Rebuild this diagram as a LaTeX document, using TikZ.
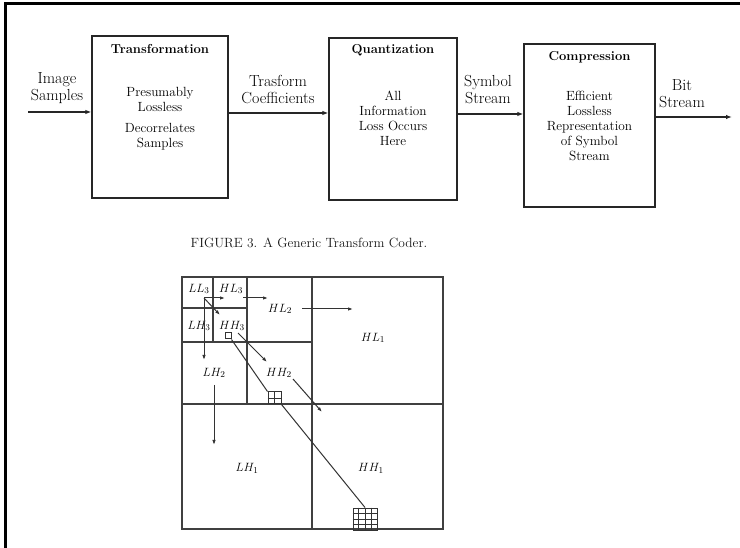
\documentclass[tikz,border=0pt]{standalone}
\usetikzlibrary{arrows.meta,calc}
\begin{document}
\begin{tikzpicture}[x=1pt,y=-1pt,
  box/.style={draw=black!85, line width=1.3pt, inner sep=0pt},
  ttl/.style={font=\fontsize{13}{15}\selectfont\bfseries, text=black},
  body/.style={font=\fontsize{13.3}{15}\selectfont, align=center, text=black},
  lab/.style={font=\fontsize{16}{17}\selectfont, align=center, text=black},
  arr/.style={draw=black!85, line width=1.2pt, -{Latex[length=6pt,width=4.5pt]}},
  wl/.style={draw=black!75, line width=1.3pt},
  wa/.style={draw=black!80, line width=1pt, -{Latex[length=5pt,width=3.5pt]}},
  wt/.style={font=\fontsize{12.5}{14}\selectfont, text=black},
  figcap/.style={font=\fontsize{13.4}{15}\selectfont, text=black!90}]
\useasboundingbox (0,0) rectangle (740,548);
\fill[white] (0,0) rectangle (740,548);
\draw[line width=3pt, line join=miter] (5,548) -- (5,4) -- (740,4);

% ---- block diagram ----
\node[box, minimum width=136pt, minimum height=162pt] (T) at (160,117) {};
\node[box, minimum width=128pt, minimum height=162pt] (Q) at (393,119) {};
\node[box, minimum width=131pt, minimum height=163pt] (C) at (589.5,125.5) {};

\node[ttl] (Tt) at (160,49) {Transformation};
\node[ttl] (Qt) at (393,50) {Quantization};
\node[ttl] (Ct) at (589.5,57) {Compression};

\node[body] (Tb1) at (160,99) {Presumably\\Lossless};
\node[body] (Tb2) at (160,137) {Decorrelates\\Samples};
\node[body] (Qb) at (393,118) {All\\Information\\Loss Occurs\\Here};
\node[body] (Cb) at (589.5,126) {Efficient\\Lossless\\Representation\\of Symbol\\Stream};

\node[lab] (L1) at (57,88.5) {Image\\Samples};
\node[lab] (L2) at (278,90) {Trasform\\Coefficients};
\node[lab] (L3) at (488,90) {Symbol\\Stream};
\node[lab] (L4) at (682,94) {Bit\\Stream};

\coordinate (in) at (28,112);
\coordinate (a2) at (0,113);
\coordinate (a3) at (0,114);
\coordinate (out) at (732,117);
\draw[arr] (in) -- (in -| T.west);
\draw[arr] (T.east |- a2) -- (Q.west |- a2);
\draw[arr] (Q.east |- a3) -- (C.west |- a3);
\draw[arr] (C.east |- out) -- (out);

\node[figcap] (fig) at (309,243) {FIGURE 3. A Generic Transform Coder.};

% ---- wavelet pyramid ----
\draw[wl] (182,277) rectangle (443,529);
\draw[wl] (312,277) -- (312,529);
\draw[wl] (182,404) -- (443,404);
\draw[wl] (247,277) -- (247,404);
\draw[wl] (182,342) -- (312,342);
\draw[wl] (213,277) -- (213,342);
\draw[wl] (182,308) -- (247,308);

\node[wt] (LL3) at (199,289) {$LL_3$};
\node[wt] (HL3) at (231,289) {$HL_3$};
\node[wt] (LH3) at (199,326) {$LH_3$};
\node[wt] (HH3) at (232,326) {$HH_3$};
\node[wt] (HL2) at (280,309) {$HL_2$};
\node[wt] (LH2) at (214,373) {$LH_2$};
\node[wt] (HH2) at (279,373) {$HH_2$};
\node[wt] (HL1) at (373,338) {$HL_1$};
\node[wt] (LH1) at (247,468) {$LH_1$};
\node[wt] (HH1) at (371,468) {$HH_1$};

\coordinate (p0) at (204,298);
\coordinate (p1) at (225,298);
\coordinate (p2) at (243,298);
\coordinate (p3) at (268,298);
\coordinate (p4) at (204,360);
\coordinate (p5) at (220,315);
\coordinate (p6) at (238,333);
\coordinate (p7) at (267,362);
\coordinate (p8) at (302,309);
\coordinate (p9) at (353,309);
\coordinate (p10) at (214,385);
\coordinate (p11) at (214,445);
\coordinate (p12) at (293,379);
\coordinate (p13) at (322,412);
\draw[wa] (p0) -- (p1);
\draw[wa] (p2) -- (p3);
\draw[wa] (p0) -- (p4);
\draw[wa] (p0) -- (p5);
\draw[wa] (p6) -- (p7);
\draw[wa] (p8) -- (p9);
\draw[wa] (p10) -- (p11);
\draw[wa] (p12) -- (p13);

% coefficient tree
\node[draw=black!80, line width=1pt, minimum size=6pt, inner sep=0pt] (s1) at (228,336) {};
\node[draw=black!80, line width=1pt, minimum width=13pt, minimum height=12pt, inner sep=0pt] (s2) at (274.5,398) {};
\draw[black!80, line width=0.8pt] (s2.north) -- (s2.south) (s2.west) -- (s2.east);
\node[draw=black!80, line width=1pt, minimum width=24pt, minimum height=22pt, inner sep=0pt] (s4) at (365,519) {};
\foreach \f in {0.25,0.5,0.75}{
  \draw[black!80, line width=0.7pt] ($(s4.north west)!\f!(s4.north east)$) -- ($(s4.south west)!\f!(s4.south east)$);
  \draw[black!80, line width=0.7pt] ($(s4.north west)!\f!(s4.south west)$) -- ($(s4.north east)!\f!(s4.south east)$);
}
\draw[black!80, line width=1pt] (s1.south east) -- (s2.north west);
\draw[black!80, line width=1pt] (s2.south east) -- (s4.north);
\end{tikzpicture}
\end{document}
